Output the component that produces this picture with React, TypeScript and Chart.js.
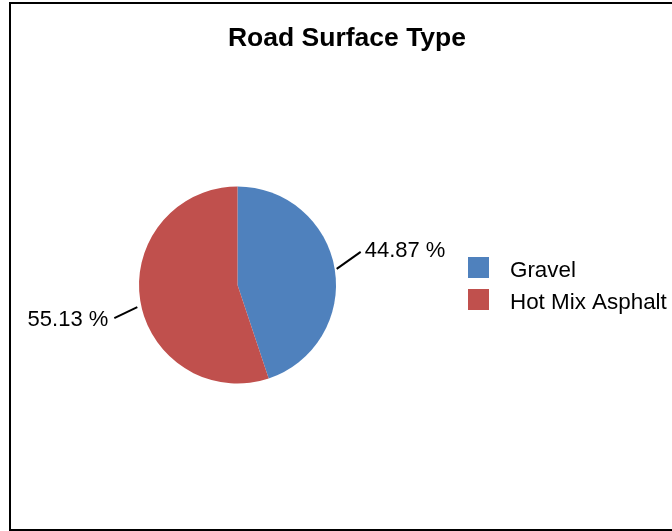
import React, { useEffect, useRef } from "react";
import { Chart, registerables } from "chart.js";

Chart.register(...registerables);

const TITLE = "Road Surface Type";
const categories = ["Gravel", "Hot Mix Asphalt"];
const values = [44.87, 55.13];
const colors = ["#4F81BD", "#C0504D"];

const FONT = '"Liberation Sans", Arial, sans-serif';

const overlayPlugin = {
  id: "overlay",
  afterDraw(chart: any) {
    const ctx = chart.ctx as CanvasRenderingContext2D;
    const W = chart.width;
    ctx.save();
    // Title
    ctx.fillStyle = "#000";
    ctx.font = `bold 26.5px ${FONT}`;
    ctx.textAlign = "center";
    ctx.textBaseline = "alphabetic";
    ctx.fillText(TITLE, W / 2, 42);

    // Data labels with leader lines
    const meta = chart.getDatasetMeta(0);
    const total = values.reduce((a, b) => a + b, 0);
    ctx.font = `22px ${FONT}`;
    ctx.strokeStyle = "#000";
    ctx.lineWidth = 2;
    meta.data.forEach((arc: any, i: number) => {
      const p = arc.getProps(["x", "y", "startAngle", "endAngle", "outerRadius"], true);
      const mid = (p.startAngle + p.endAngle) / 2;
      const cos = Math.cos(mid);
      const sin = Math.sin(mid);
      const ax = p.x + cos * (p.outerRadius + 2);
      const ay = p.y + sin * (p.outerRadius + 2);
      const right = cos >= 0;
      const ex = ax + (right ? 24 : -24);
      const ey = ay + (right ? -17 : 17);
      const sx = right ? ax : ax - 1;
      const sy = right ? ay : ay + 6;
      ctx.beginPath();
      ctx.moveTo(sx, sy);
      ctx.lineTo(ex, ey);
      ctx.stroke();
      const label = ((values[i] / total) * 100).toFixed(2) + " %";
      ctx.textAlign = right ? "left" : "right";
      ctx.fillText(label, right ? ex + 4 : ex - 6, ey + (right ? 5.5 : 7.5));
    });

    // Legend
    const lx = 457;
    const ly = 253;
    categories.forEach((c, i) => {
      const y = ly + i * 32;
      ctx.fillStyle = colors[i];
      ctx.fillRect(lx, y, 21, 21);
      ctx.fillStyle = "#000";
      ctx.textAlign = "left";
      ctx.font = `22.4px ${FONT}`;
      ctx.fillText(c, lx + 42, y + 19.5);
    });
    ctx.restore();
  },
};

export default function App() {
  const ref = useRef<HTMLCanvasElement | null>(null);
  useEffect(() => {
    if (!ref.current) return;
    const chart = new Chart(ref.current, {
      type: "pie",
      data: {
        labels: categories,
        datasets: [
          {
            data: values,
            backgroundColor: colors,
            borderWidth: 0,
          },
        ],
      },
      options: {
        animation: false,
        responsive: false,
        devicePixelRatio: 1,
        layout: {
          padding: { left: 128, right: 347, top: 182.5, bottom: 145.5 },
        },
        plugins: {
          legend: { display: false },
          title: { display: false },
          tooltip: { enabled: false },
        },
      },
      plugins: [overlayPlugin],
    });
    return () => chart.destroy();
  }, []);
  return (
    <div
      style={{
        position: "absolute",
        left: 9,
        top: 2,
        width: 672,
        height: 525,
        border: "2px solid #000",
        background: "#fff",
      }}
    >
      <canvas ref={ref} width={672} height={525} style={{ display: "block", width: 672, height: 525 }} />
    </div>
  );
}
